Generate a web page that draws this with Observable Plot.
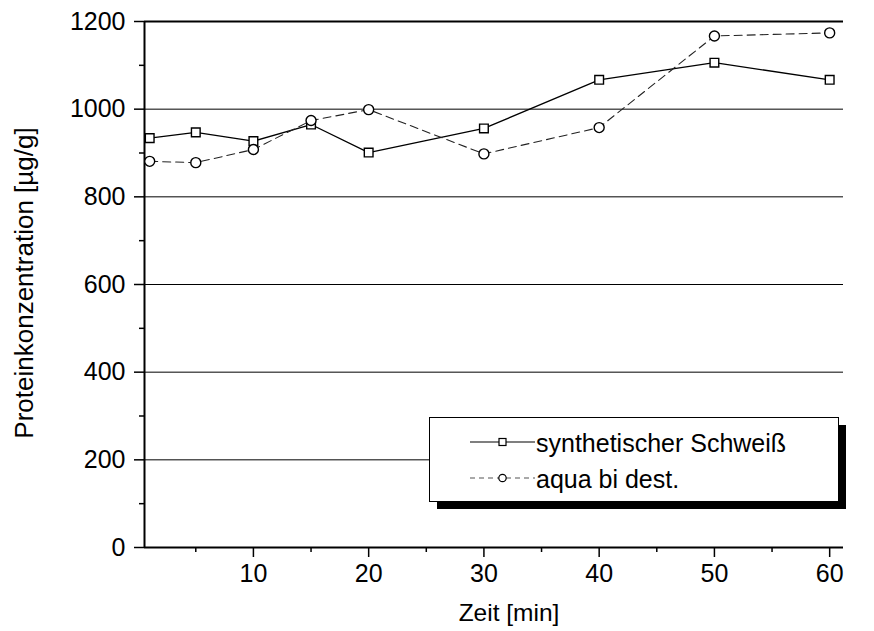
<!DOCTYPE html>
<html><head><meta charset="utf-8">
<script src="https://cdn.jsdelivr.net/npm/d3@7"></script>
<script src="https://cdn.jsdelivr.net/npm/@observablehq/plot@0.6"></script>
<style>
body{margin:0;background:#fff}
svg{display:block;font-family:"Liberation Sans",Arial,sans-serif}
</style>
</head><body><div id="chart"></div>
<script>
const time = [1, 5, 10, 15, 20, 30, 40, 50, 60];
const synth = [934, 947, 927, 965, 901, 956, 1067, 1106, 1067];
const aqua = [881, 878, 908, 974, 999, 898, 958, 1167, 1174];
const seriesNames = ["synthetischer Schweiß", "aqua bi dest."];
const yMajor = [0, 200, 400, 600, 800, 1000, 1200];
const yMinor = [100, 300, 500, 700, 900, 1100];
const xMajor = [10, 20, 30, 40, 50, 60];
const xMinor = [5, 15, 25, 35, 45, 55];
const gridY = [200, 400, 600, 800, 1000];
const xTitle = "Zeit [min]";
const yTitle = "Proteinkonzentration [µg/g]";

const synthData = time.map((t, i) => ({t, v: synth[i]}));
const aquaData = time.map((t, i) => ({t, v: aqua[i]}));
const xDomain = [0.55, 61.2];

const svg = Plot.plot({
  width: 874, height: 631,
  marginLeft: 144, marginRight: 31, marginTop: 21, marginBottom: 84,
  style: {fontFamily: "'Liberation Sans', Arial, sans-serif", fontSize: "24px", color: "black", background: "white"},
  x: {domain: xDomain},
  y: {domain: [0, 1200]},
  marks: [
    Plot.ruleY(gridY, {stroke: "black", strokeWidth: 1}),
    Plot.ruleY([1200], {stroke: "black", strokeWidth: 2}),
    Plot.ruleY([0], {stroke: "black", strokeWidth: 2}),
    Plot.ruleX([xDomain[0]], {stroke: "black", strokeWidth: 2}),
    Plot.axisY({ticks: yMajor, tickSize: 10, tickPadding: 9, tickFormat: d => String(d), label: null, fontSize: 25, strokeWidth: 1.5}),
    Plot.axisY({ticks: yMinor, tickSize: 5, tickFormat: () => "", label: null, strokeWidth: 1.5}),
    Plot.axisX({ticks: xMajor, tickSize: 10, tickPadding: 7, tickFormat: d => String(d), label: null, fontSize: 25, strokeWidth: 1.5}),
    Plot.axisX({ticks: xMinor, tickSize: 5, tickFormat: () => "", label: null, strokeWidth: 1.5}),
    Plot.text([xTitle], {frameAnchor: "bottom", dy: 66, dx: 15, fontSize: 24.5, lineAnchor: "middle", textAnchor: "middle", fill: "black"}),
    Plot.text([yTitle], {frameAnchor: "left", dx: -120, dy: -1.5, rotate: -90, fontSize: 26, lineAnchor: "middle", textAnchor: "middle", fill: "black"}),
    Plot.line(synthData, {x: "t", y: "v", stroke: "black", strokeWidth: 1.3}),
    Plot.line(aquaData, {x: "t", y: "v", stroke: "#222", strokeWidth: 1.1, strokeDasharray: "8,5"}),
    Plot.dot(synthData, {x: "t", y: "v", symbol: "square", r: 4.9, fill: "white", stroke: "black", strokeWidth: 1.4}),
    Plot.dot(aquaData, {x: "t", y: "v", symbol: "circle", r: 5, fill: "white", stroke: "black", strokeWidth: 1.4})
  ]
});

// Legend
const s = d3.select(svg);
const lg = s.append("g").attr("text-anchor", "start");
lg.append("rect").attr("x", 437).attr("y", 425).attr("width", 409).attr("height", 84).attr("fill", "black");
lg.append("rect").attr("x", 429.5).attr("y", 417.5).attr("width", 409).attr("height", 84)
  .attr("fill", "white").attr("stroke", "black").attr("stroke-width", 1);
const rowY = [442, 478];
seriesNames.forEach((name, i) => {
  const y = rowY[i];
  lg.append("line").attr("x1", 470).attr("x2", 535).attr("y1", y).attr("y2", y)
    .attr("stroke", i === 0 ? "black" : "#555").attr("stroke-width", 1.2)
    .attr("stroke-dasharray", i === 0 ? null : "5,4");
  if (i === 0) {
    lg.append("rect").attr("x", 499).attr("y", y - 3.5).attr("width", 7).attr("height", 7)
      .attr("fill", "white").attr("stroke", "black").attr("stroke-width", 1.2);
  } else {
    lg.append("circle").attr("cx", 502.5).attr("cy", y).attr("r", 3.7)
      .attr("fill", "white").attr("stroke", "black").attr("stroke-width", 1.2);
  }
  lg.append("text").attr("x", 536).attr("y", y + 10).attr("font-size", 25)
    .attr("text-anchor", "start").attr("fill", "black").text(name);
});

document.getElementById("chart").appendChild(svg);
</script>
</body></html>
